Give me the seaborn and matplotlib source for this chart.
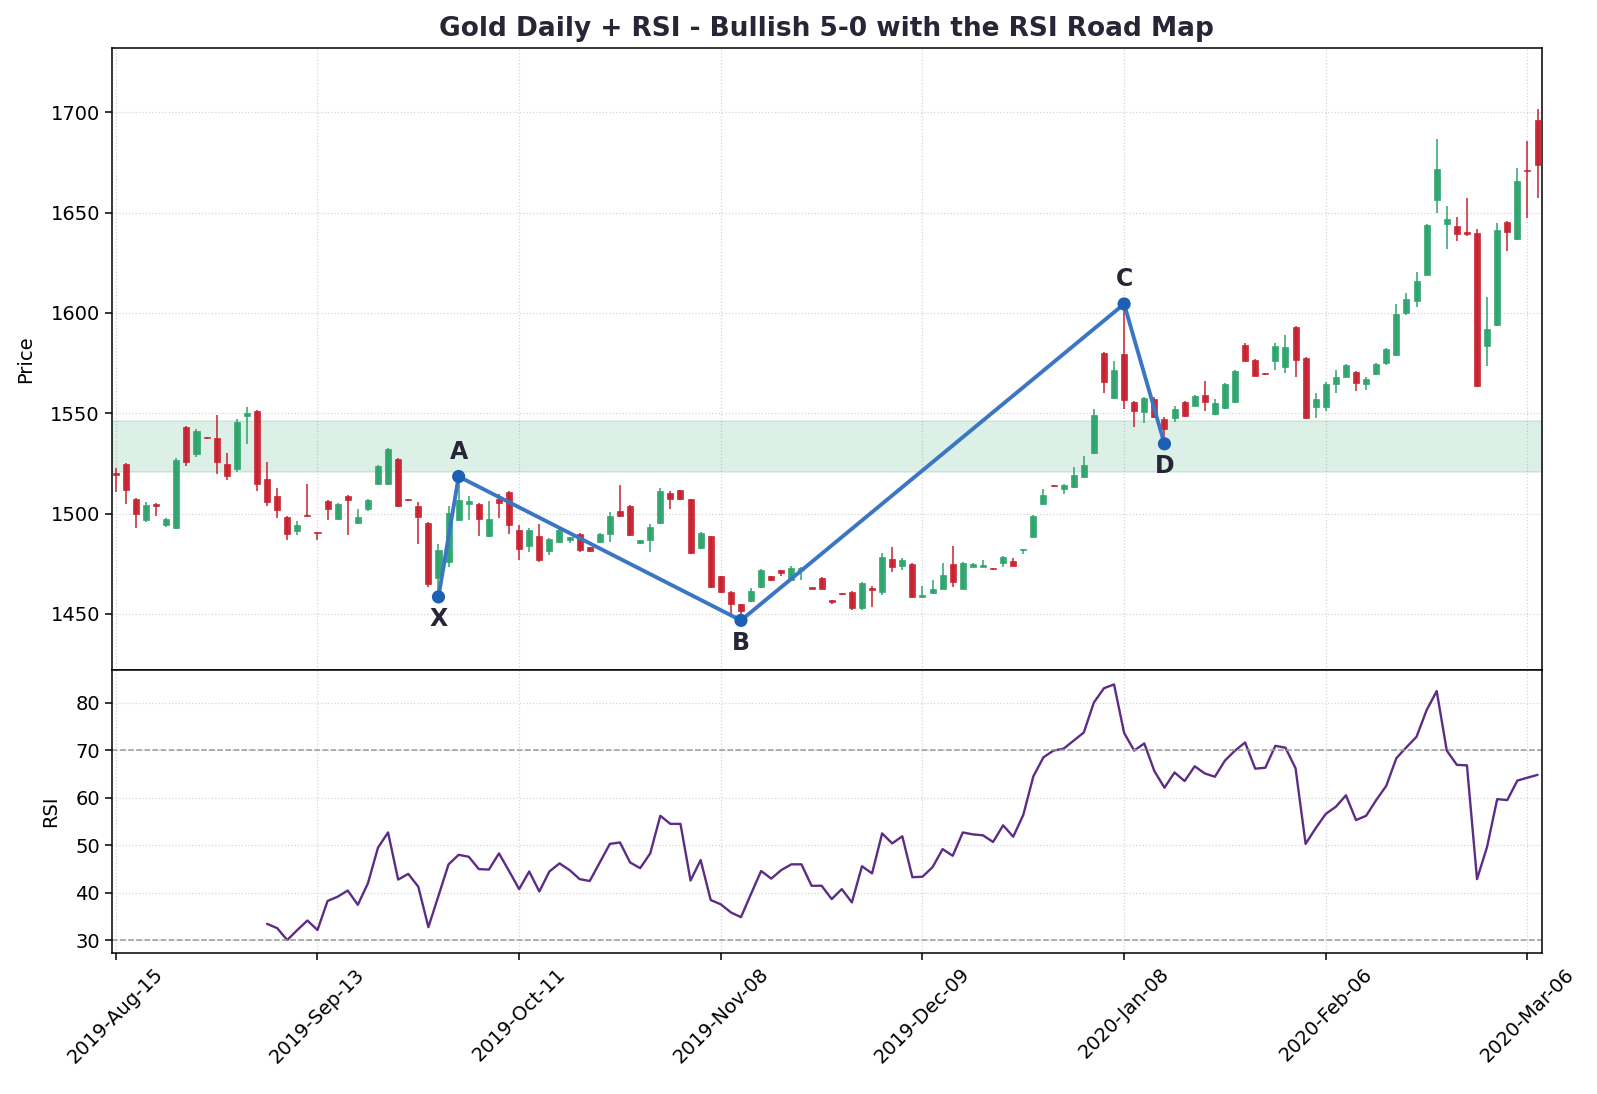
import numpy as np
import pandas as pd
import matplotlib
matplotlib.use("Agg")
import matplotlib.pyplot as plt
import seaborn as sns

# daily OHLC, one entry per trading day (index 0 = 2019-08-15)
opens = [
    1520.0, 1524.6, 1507.3, 1497.0, 1504.8, 1494.5, 1493.0, 1543.2, 1529.9, 1538.0,
    1537.7, 1524.7, 1522.4, 1548.8, 1551.2, 1517.2, 1508.8, 1498.3, 1491.5, 1499.4,
    1490.8, 1506.3, 1497.5, 1508.8, 1495.5, 1502.3, 1515.0, 1515.0, 1527.4, 1507.2,
    1504.0, 1495.5, 1467.9, 1475.9, 1497.0, 1505.0, 1504.7, 1488.9, 1507.5, 1511.0,
    1491.7, 1483.9, 1488.7, 1481.4, 1485.9, 1486.9, 1489.7, 1483.2, 1485.9, 1490.0,
    1501.2, 1503.7, 1485.4, 1486.9, 1495.5, 1510.5, 1511.6, 1507.1, 1482.9, 1488.7,
    1468.7, 1460.8, 1454.8, 1456.4, 1463.4, 1468.7, 1471.7, 1467.1, 1471.7, 1462.8,
    1468.1, 1456.8, 1460.0, 1460.8, 1453.2, 1463.0, 1461.1, 1477.3, 1474.1, 1474.9,
    1458.6, 1460.3, 1462.6, 1474.9, 1462.6, 1473.6, 1473.6, 1472.5, 1475.6, 1476.3,
    1481.8, 1488.6, 1504.9, 1513.9, 1512.3, 1513.5, 1518.2, 1530.3, 1580.2, 1557.8,
    1579.7, 1555.5, 1550.8, 1557.0, 1547.0, 1547.8, 1555.5, 1553.8, 1559.2, 1549.5,
    1552.8, 1555.8, 1584.2, 1576.7, 1569.7, 1576.3, 1573.3, 1593.0, 1577.5, 1552.9,
    1553.1, 1564.5, 1568.3, 1570.8, 1564.5, 1569.5, 1575.0, 1579.0, 1600.0, 1606.0,
    1619.1, 1656.4, 1644.6, 1643.6, 1640.6, 1640.1, 1583.5, 1594.0, 1645.1, 1637.1,
    1670.9, 1696.2,
]
highs = [
    1522.6, 1525.2, 1508.0, 1505.6, 1505.3, 1497.6, 1527.6, 1543.8, 1542.0, 1538.3,
    1549.2, 1530.0, 1547.0, 1553.0, 1551.6, 1525.9, 1512.8, 1498.8, 1496.1, 1515.0,
    1491.0, 1506.8, 1505.3, 1509.4, 1502.1, 1507.5, 1524.0, 1532.6, 1527.9, 1507.5,
    1505.6, 1496.0, 1485.0, 1503.7, 1518.5, 1508.6, 1505.2, 1506.3, 1509.6, 1511.5,
    1494.5, 1493.0, 1494.8, 1488.0, 1492.6, 1488.6, 1490.2, 1483.6, 1490.3, 1501.0,
    1514.1, 1504.2, 1487.1, 1495.0, 1513.0, 1511.4, 1512.0, 1507.5, 1490.7, 1489.1,
    1469.1, 1461.2, 1455.2, 1463.1, 1472.2, 1469.1, 1472.0, 1474.1, 1473.5, 1463.0,
    1468.5, 1457.2, 1460.2, 1461.2, 1465.8, 1464.1, 1480.3, 1483.3, 1477.8, 1475.4,
    1464.0, 1467.0, 1475.3, 1483.9, 1476.0, 1475.4, 1476.9, 1472.7, 1478.9, 1477.8,
    1482.6, 1499.2, 1512.2, 1514.1, 1514.8, 1523.3, 1528.6, 1552.0, 1580.6, 1576.2,
    1604.5, 1556.0, 1558.3, 1558.0, 1548.0, 1553.7, 1556.2, 1559.2, 1566.2, 1557.0,
    1565.0, 1571.7, 1584.8, 1577.1, 1569.9, 1585.0, 1588.8, 1593.4, 1578.0, 1560.3,
    1565.4, 1571.7, 1574.7, 1571.2, 1568.3, 1575.0, 1582.5, 1604.3, 1610.1, 1620.6,
    1644.5, 1686.5, 1653.4, 1647.6, 1657.5, 1642.0, 1608.1, 1645.0, 1645.6, 1672.5,
    1685.8, 1701.5,
]
lows = [
    1510.6, 1504.6, 1492.6, 1496.0, 1498.6, 1493.5, 1492.5, 1523.9, 1528.1, 1537.2,
    1519.6, 1516.6, 1520.6, 1534.5, 1511.3, 1503.9, 1497.6, 1486.7, 1489.6, 1498.4,
    1486.7, 1496.6, 1497.0, 1489.2, 1494.8, 1501.5, 1514.5, 1514.5, 1503.3, 1506.4,
    1485.0, 1463.4, 1458.5, 1473.4, 1496.3, 1496.7, 1488.7, 1488.4, 1498.0, 1490.0,
    1476.7, 1480.9, 1475.9, 1479.5, 1485.3, 1485.6, 1480.9, 1481.0, 1485.4, 1485.7,
    1498.3, 1489.0, 1485.0, 1480.7, 1495.0, 1502.3, 1507.0, 1480.1, 1482.4, 1463.0,
    1460.5, 1450.1, 1446.8, 1455.9, 1463.0, 1466.5, 1469.0, 1466.6, 1467.1, 1462.4,
    1462.2, 1455.1, 1459.5, 1452.0, 1452.0, 1453.7, 1459.5, 1470.8, 1472.0, 1457.8,
    1458.2, 1459.9, 1462.2, 1463.3, 1462.2, 1473.2, 1473.2, 1472.0, 1473.3, 1473.7,
    1479.9, 1488.2, 1504.5, 1513.4, 1509.8, 1513.0, 1517.8, 1529.5, 1560.0, 1557.3,
    1552.0, 1543.3, 1545.3, 1547.6, 1534.8, 1545.8, 1548.4, 1553.4, 1551.2, 1549.0,
    1552.2, 1555.3, 1575.9, 1568.4, 1569.2, 1571.5, 1570.2, 1568.0, 1547.0, 1547.5,
    1551.3, 1560.2, 1567.9, 1561.2, 1561.5, 1569.0, 1574.3, 1578.5, 1599.2, 1603.0,
    1618.7, 1649.6, 1632.1, 1636.1, 1638.5, 1563.0, 1573.6, 1593.5, 1630.9, 1636.6,
    1647.1, 1657.5,
]
closes = [
    1519.5, 1511.9, 1500.0, 1504.3, 1503.8, 1497.1, 1526.7, 1525.9, 1541.2, 1537.5,
    1525.9, 1518.9, 1545.7, 1550.2, 1514.9, 1505.9, 1501.8, 1490.0, 1494.3, 1498.7,
    1490.3, 1502.5, 1504.8, 1506.9, 1498.3, 1507.0, 1523.6, 1532.1, 1503.8, 1506.7,
    1498.3, 1464.9, 1481.7, 1500.5, 1507.0, 1506.2, 1497.3, 1497.2, 1505.3, 1494.3,
    1482.4, 1491.7, 1476.7, 1487.5, 1492.0, 1488.2, 1482.0, 1481.5, 1489.7, 1498.7,
    1498.8, 1489.4, 1486.7, 1493.2, 1511.1, 1507.3, 1507.3, 1480.5, 1490.2, 1463.4,
    1460.9, 1454.8, 1451.5, 1461.3, 1471.7, 1466.9, 1470.4, 1473.1, 1473.1, 1462.6,
    1462.6, 1456.0, 1459.8, 1453.2, 1465.3, 1462.1, 1478.3, 1473.6, 1476.9, 1458.6,
    1459.5, 1462.5, 1469.5, 1466.1, 1475.3, 1474.9, 1474.3, 1472.3, 1478.4, 1474.1,
    1482.3, 1498.9, 1509.4, 1513.7, 1514.3, 1519.3, 1524.3, 1549.0, 1565.8, 1571.7,
    1556.8, 1551.3, 1557.5, 1548.0, 1542.0, 1552.2, 1548.8, 1558.7, 1555.8, 1555.0,
    1564.5, 1571.2, 1576.3, 1568.8, 1569.5, 1583.5, 1583.0, 1576.8, 1547.5, 1557.3,
    1564.8, 1568.3, 1574.3, 1565.0, 1567.3, 1574.7, 1582.1, 1599.6, 1607.1, 1616.1,
    1644.1, 1672.0, 1646.7, 1639.6, 1639.6, 1563.5, 1591.8, 1641.4, 1640.4, 1666.0,
    1670.6, 1673.9,
]

# RSI starts at bar 15
rsi_start = 15
rsi_values = [
    33.5, 32.6, 30.1, 32.2, 34.2, 32.2, 38.3, 39.2, 40.5, 37.5,
    42.0, 49.5, 52.7, 42.8, 44.0, 41.3, 32.8, 39.4, 46.0, 48.0,
    47.6, 45.0, 44.9, 48.3, 44.6, 40.8, 44.5, 40.3, 44.5, 46.2,
    44.8, 42.9, 42.5, 46.4, 50.3, 50.6, 46.4, 45.2, 48.3, 56.2,
    54.5, 54.5, 42.6, 46.9, 38.5, 37.6, 35.9, 34.9, 39.8, 44.6,
    43.0, 44.8, 46.0, 46.0, 41.5, 41.5, 38.7, 40.8, 38.0, 45.6,
    44.1, 52.5, 50.4, 51.9, 43.3, 43.4, 45.4, 49.2, 47.8, 52.7,
    52.3, 52.1, 50.7, 54.2, 51.8, 56.4, 64.5, 68.5, 69.9, 70.3,
    72.0, 73.7, 80.0, 83.0, 83.8, 73.6, 69.9, 71.4, 65.6, 62.1,
    65.3, 63.5, 66.6, 65.1, 64.4, 67.8, 69.9, 71.6, 66.1, 66.3,
    70.9, 70.5, 66.2, 50.3, 53.6, 56.6, 58.1, 60.5, 55.3, 56.2,
    59.5, 62.5, 68.3, 70.6, 72.8, 78.4, 82.4, 69.9, 66.9, 66.8,
    42.9, 49.7, 59.7, 59.5, 63.6, 64.2, 64.8,
]

# 5-0 pattern points
pattern_labels = ["X", "A", "B", "C", "D"]
pattern_bars = [32, 34, 62, 100, 104]
pattern_prices = [1458.5, 1518.5, 1446.8, 1604.5, 1534.8]

# RSI road map zone
zone_low, zone_high = 1521, 1546

tick_labels = ["2019-Aug-15", "2019-Sep-13", "2019-Oct-11", "2019-Nov-08",
               "2019-Dec-09", "2020-Jan-08", "2020-Feb-06", "2020-Mar-06"]

df = pd.DataFrame({"open": opens, "high": highs, "low": lows, "close": closes})
df["bar"] = np.arange(len(df))
rsi_df = pd.DataFrame({"bar": np.arange(rsi_start, rsi_start + len(rsi_values)),
                       "rsi": rsi_values})
pat_df = pd.DataFrame({"bar": pattern_bars, "price": pattern_prices, "label": pattern_labels})

sns.set_theme(style="ticks")
plt.rcParams["font.family"] = ["DejaVu Sans"]
plt.rcParams["xtick.color"] = "black"
plt.rcParams["ytick.color"] = "black"
plt.rcParams["axes.labelcolor"] = "black"

up_color = "#2ca46c"
down_color = "#c8202f"
text_color = "#262637"

fig = plt.figure(figsize=(15.97, 10.94), dpi=100)
gs = fig.add_gridspec(2, 1, height_ratios=[2.2, 1], hspace=0)
ax = fig.add_subplot(gs[0])
ax_rsi = fig.add_subplot(gs[1], sharex=ax)
fig.subplots_adjust(left=0.070, right=0.9656, top=0.956, bottom=0.129)

# candles
is_up = df["close"] >= df["open"]
colors = np.where(is_up, up_color, down_color)
body_bottom = df[["open", "close"]].min(axis=1)
body_height = (df["close"] - df["open"]).abs().clip(lower=0.6)
ax.vlines(df["bar"], df["low"], df["high"], colors=colors, linewidth=1.1, zorder=2)
ax.bar(df["bar"], body_height, bottom=body_bottom, width=0.6, color=colors,
       edgecolor=colors, linewidth=0.5, alpha=0.95, zorder=3)

ax.axhspan(zone_low, zone_high, facecolor=up_color, alpha=0.16, edgecolor=up_color,
           linewidth=1.2, zorder=1)

# pattern
sns.lineplot(data=pat_df, x="bar", y="price", ax=ax, color="#3a76c4", linewidth=2.8,
             sort=False, zorder=4)
sns.scatterplot(data=pat_df, x="bar", y="price", ax=ax, color="#1c5fb4", s=90,
                edgecolor="none", zorder=5)
for lab, b, p in zip(pattern_labels, pattern_bars, pattern_prices):
    dy = 18 if lab in ("A", "C") else -16
    ax.annotate(lab, (b, p), xytext=(0, dy), textcoords="offset points",
                ha="center", va="center", fontsize=17, fontweight="bold",
                color=text_color, zorder=6)

ax.set_ylim(1422, 1732)
ax.set_yticks([1450, 1500, 1550, 1600, 1650, 1700])
ax.set_ylabel("Price", fontsize=14, labelpad=11)
ax.set_xlabel("")
ax.set_title("Gold Daily + RSI - Bullish 5-0 with the RSI Road Map",
             fontsize=19, fontweight="bold", color=text_color, pad=9)
ax.grid(True, linestyle=":", color="#d5d5d5", linewidth=0.9)
ax.tick_params(labelbottom=False, labelsize=14, length=5, width=1.1)

# RSI
sns.lineplot(data=rsi_df, x="bar", y="rsi", ax=ax_rsi, color="#5b2d86", linewidth=1.7)
ax_rsi.axhline(70, color="#999999", linestyle="--", linewidth=1.1)
ax_rsi.axhline(30, color="#999999", linestyle="--", linewidth=1.1)
ax_rsi.set_ylim(27.4, 86.8)
ax_rsi.set_yticks([30, 40, 50, 60, 70, 80])
ax_rsi.set_ylabel("RSI", fontsize=14, labelpad=11)
ax_rsi.set_xlabel("")
ax_rsi.grid(True, linestyle=":", color="#d5d5d5", linewidth=0.9)
ax_rsi.tick_params(labelsize=14, length=5, width=1.1)

ax_rsi.set_xlim(-0.4, len(df) - 0.55)
ax_rsi.set_xticks(np.arange(0, len(df), 20))
ax_rsi.set_xticklabels(tick_labels, rotation=45, ha="center", fontsize=14)

for a in (ax, ax_rsi):
    for sp in a.spines.values():
        sp.set_color("black")
        sp.set_linewidth(1.1)

fig.savefig("out.png", dpi=100)
